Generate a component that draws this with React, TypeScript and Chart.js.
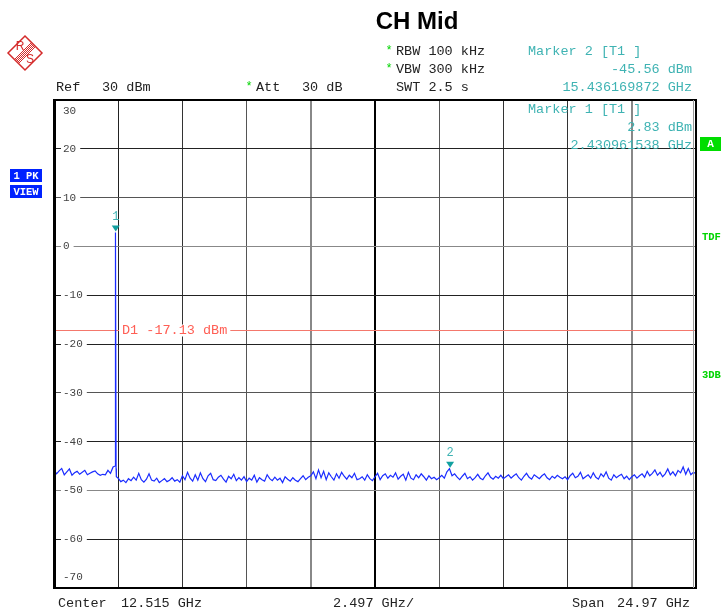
import React, { useEffect, useRef } from "react";
import { Chart, registerables } from "chart.js";

Chart.register(...registerables);

// ---- data ----
const START_GHZ = 0.03;
const STOP_GHZ = 25.0;
const DIV_GHZ = 2.497;
const Y_MIN = -70;
const Y_MAX = 30;
const yTickValues = [30, 20, 10, 0, -10, -20, -30, -40, -50, -60, -70];
const yTickLabels = ["30", "20", "10", "0", "-10", "-20", "-30", "-40", "-50", "-60", "-70"];

// trace levels (dBm), evenly spaced sweep points from START to STOP
const traceLevels: number[] = [
  // 0.03 .. 2.33 GHz
  -45.8, -46.6, -46.0, -45.5, -46.8, -46.2, -45.6, -46.9, -46.4, -46.1, -46.7, -46.3, -45.9, -46.8, -46.5, -46.2,
  -46.0, -46.6, -46.9, -46.7, -46.8, -45.9, -46.5, -45.2,
  // carrier
  2.83,
  // 2.5 .. 5 GHz
  -47.5, -48.2, -47.9, -48.4, -47.6, -48.0, -47.3, -47.9, -46.5, -47.8, -48.3, -47.7, -46.6, -47.9, -48.1, -47.5,
  -48.4, -48.0, -47.6, -48.2, -47.9, -47.4, -48.1, -47.8, -48.3,
  // 5 .. 7.5
  -47.0, -47.8, -46.3, -47.5, -48.1, -46.8, -47.9, -46.4, -47.6, -48.2, -47.0, -46.5, -47.8, -48.0, -47.3, -46.9,
  -47.7, -48.3, -47.1, -47.6, -46.7, -48.0, -47.4, -47.9, -47.2,
  // 7.5 .. 10
  -48.2, -47.5, -47.9, -46.9, -48.3, -47.4, -47.8, -48.1, -46.8, -47.6, -48.0, -47.3, -47.9, -47.5, -48.4, -47.2,
  -47.7, -48.1, -47.4, -47.9, -48.2, -47.6, -47.0, -47.8, -47.3,
  // 10 .. 12.5
  -47.0, -46.2, -47.6, -45.8, -47.4, -46.1, -47.8, -46.4, -47.2, -47.9, -46.6, -47.5, -46.3, -47.1, -47.7, -46.9,
  -47.4, -46.5, -47.8, -47.6, -47.2, -47.9, -46.8, -47.6, -48.0,
  // 12.5 .. 15
  -47.2, -46.5, -47.8, -47.0, -46.6, -47.5, -46.9, -47.3, -46.4, -47.7, -47.1, -46.7, -47.9, -46.3, -47.5, -47.8,
  -46.8, -47.4, -46.6, -47.2, -47.9, -47.0, -47.6, -47.3, -47.8,
  // 15 .. 17.5
  -47.4, -46.9, -47.5, -46.2, -45.56, -47.0, -46.6, -47.3, -47.8, -47.1, -46.5, -47.6, -47.2, -47.9, -47.4, -46.7,
  -47.5, -47.8, -47.0, -46.4, -47.3, -47.7, -47.1, -47.5, -46.9,
  // 17.5 .. 20
  -47.6, -47.2, -46.8, -47.5, -47.0, -46.6, -47.4, -47.9, -47.1, -46.5, -47.3, -47.7, -46.8, -47.2, -47.6, -47.0,
  -46.6, -47.4, -47.8, -47.1, -47.5, -46.9, -47.3, -47.6, -47.2,
  // 20 .. 22.5
  -47.8, -47.0, -46.5, -47.4, -47.1, -46.3, -47.6, -47.2, -46.8, -47.5, -46.4, -47.3, -47.7, -46.6, -47.2, -46.2,
  -47.5, -47.9, -46.8, -47.4, -47.0, -46.7, -47.6, -47.1, -47.8,
  // 22.5 .. 25
  -47.2, -46.8, -47.5, -47.0, -46.6, -47.3, -46.1, -47.0, -46.5, -45.8, -46.9, -46.3, -47.2, -46.6, -45.6, -46.8,
  -46.2, -47.0, -45.9, -46.4, -45.2, -46.7, -45.5, -46.8, -46.3, -46.6,
];

// extra sweep points on the carrier's skirts (GHz, dBm)
const carrierSkirtFreqs = [2.405, 2.415, 2.445, 2.455];
const carrierSkirtLevels = [-45.0, -44.0, -45.5, -47.2];

const markers = [
  { label: "1", freq: 2.430961538, level: 2.83 },
  { label: "2", freq: 15.436169872, level: -45.56 },
];
const displayLine = { label: "D1 -17.13 dBm", level: -17.13 };

const titleText = "CH Mid";
const headerLeft = { ref: "Ref", refVal: "30 dBm", att: "Att", attVal: "30 dB" };
const settingLines = ["RBW 100 kHz", "VBW 300 kHz", "SWT 2.5 s"];
const marker2Lines = ["Marker 2 [T1 ]", "-45.56 dBm", "15.436169872 GHz"];
const marker1Lines = ["Marker 1 [T1 ]", "2.83 dBm", "2.430961538 GHz"];
const footer = { center: "Center", centerVal: "12.515 GHz", div: "2.497 GHz/", span: "Span", spanVal: "24.97 GHz" };

const MONO = '"Liberation Mono", "DejaVu Sans Mono", monospace';
const SANS = '"Liberation Sans", Arial, sans-serif';
const TEAL = "#3fb3b3";
const GREEN = "#00d400";
const RED = "#ff5f55";
const BLUE = "#1a2cff";

function txt(ctx: CanvasRenderingContext2D, s: string, x: number, y: number, color: string, font: string, align: CanvasTextAlign = "left") {
  ctx.fillStyle = color;
  ctx.font = font;
  ctx.textAlign = align;
  ctx.textBaseline = "middle";
  ctx.fillText(s, x, y);
}

const decor = {
  id: "rsDecor",
  beforeDatasetsDraw(chart: any) {
    const ctx: CanvasRenderingContext2D = chart.ctx;
    const { left, right } = chart.chartArea;
    const ys = chart.scales.y;
    ctx.save();
    // y tick labels inside the grid
    ctx.font = `11px ${MONO}`;
    yTickValues.forEach((v, i) => {
      let py = ys.getPixelForValue(v);
      if (i === 0) py += 11;
      if (i === yTickValues.length - 1) py -= 11;
      const w = ctx.measureText(yTickLabels[i]).width;
      ctx.fillStyle = "#fff";
      ctx.fillRect(left + 7, py - 5, w + 6, 10);
      txt(ctx, yTickLabels[i], left + 9, py, "#444", `11px ${MONO}`);
    });
    // display line D1
    const dy = Math.round(ys.getPixelForValue(displayLine.level)) + 0.5;
    ctx.strokeStyle = "#f4786c";
    ctx.lineWidth = 1;
    ctx.beginPath();
    ctx.moveTo(left, dy);
    ctx.lineTo(right, dy);
    ctx.stroke();
    ctx.font = `13.5px ${MONO}`;
    const lw = ctx.measureText(displayLine.label).width;
    ctx.fillStyle = "#fff";
    ctx.fillRect(left + 65, dy - 6, lw + 6, 12);
    txt(ctx, displayLine.label, left + 68, dy, RED, `13.5px ${MONO}`);
    ctx.restore();
  },
  afterDatasetsDraw(chart: any) {
    const ctx: CanvasRenderingContext2D = chart.ctx;
    const { left, right, top, bottom } = chart.chartArea;
    const xs = chart.scales.x;
    const ys = chart.scales.y;
    ctx.save();
    // markers
    markers.forEach((m) => {
      const px = xs.getPixelForValue(m.freq);
      const py = ys.getPixelForValue(m.level);
      ctx.fillStyle = "#12a0a0";
      ctx.beginPath();
      ctx.moveTo(px - 4, py - 7);
      ctx.lineTo(px + 4, py - 7);
      ctx.lineTo(px, py - 1);
      ctx.closePath();
      ctx.fill();
      txt(ctx, m.label, px, py - 16, TEAL, `12px ${MONO}`, "center");
    });
    // frame
    ctx.strokeStyle = "#000";
    ctx.lineWidth = 2;
    ctx.strokeRect(left, top, right - left, bottom - top);
    ctx.fillStyle = "#000";
    ctx.fillRect(left - 1, top - 1, 3, bottom - top + 2);
    ctx.strokeStyle = "#999";
    ctx.lineWidth = 1;
    ctx.beginPath();
    ctx.moveTo(right - 2.5, top);
    ctx.lineTo(right - 2.5, bottom);
    ctx.stroke();
    // marker 1 info inside plot
    const f = `13.5px ${MONO}`;
    txt(ctx, marker1Lines[0], 528, 109, TEAL, f);
    txt(ctx, marker1Lines[1], 692, 127, TEAL, f, "right");
    txt(ctx, marker1Lines[2], 692, 145, TEAL, f, "right");
    ctx.restore();
  },
  afterDraw(chart: any) {
    const ctx: CanvasRenderingContext2D = chart.ctx;
    ctx.save();
    const f = `13.5px ${MONO}`;
    // title
    txt(ctx, titleText, 417, 22, "#000", `bold 24px ${SANS}`, "center");
    // logo
    ctx.save();
    ctx.translate(25, 53);
    ctx.strokeStyle = "#d42a2a";
    ctx.lineWidth = 1.5;
    ctx.beginPath();
    ctx.moveTo(0, -17);
    ctx.lineTo(17, 0);
    ctx.lineTo(0, 17);
    ctx.lineTo(-17, 0);
    ctx.closePath();
    ctx.stroke();
    ctx.lineWidth = 1;
    for (let k = -2; k <= 2; k++) {
      ctx.beginPath();
      ctx.moveTo(9 + k, -9 + k);
      ctx.lineTo(-9 + k, 9 + k);
      ctx.stroke();
    }
    txt(ctx, "R", -5, -6, "#d42a2a", `12px ${SANS}`, "center");
    txt(ctx, "S", 5, 7, "#d42a2a", `12px ${SANS}`, "center");
    ctx.restore();
    // settings
    txt(ctx, "*", 389, 51, GREEN, `12px ${MONO}`, "center");
    txt(ctx, "*", 389, 69, GREEN, `12px ${MONO}`, "center");
    txt(ctx, "*", 249, 87, GREEN, `12px ${MONO}`, "center");
    txt(ctx, settingLines[0], 396, 51, "#222", f);
    txt(ctx, settingLines[1], 396, 69, "#222", f);
    txt(ctx, settingLines[2], 396, 87, "#222", f);
    txt(ctx, headerLeft.ref, 56, 87, "#222", f);
    txt(ctx, headerLeft.refVal, 102, 87, "#222", f);
    txt(ctx, headerLeft.att, 256, 87, "#222", f);
    txt(ctx, headerLeft.attVal, 302, 87, "#222", f);
    // marker 2 block
    txt(ctx, marker2Lines[0], 528, 51, TEAL, f);
    txt(ctx, marker2Lines[1], 692, 69, TEAL, f, "right");
    txt(ctx, marker2Lines[2], 692, 87, TEAL, f, "right");
    // side labels
    ctx.fillStyle = "#0022ff";
    ctx.fillRect(10, 169, 32, 13);
    ctx.fillRect(10, 185, 32, 13);
    txt(ctx, "1 PK", 26, 176, "#fff", `bold 10.5px ${MONO}`, "center");
    txt(ctx, "VIEW", 26, 192, "#fff", `bold 10.5px ${MONO}`, "center");
    ctx.fillStyle = "#00dd00";
    ctx.fillRect(700, 137, 21, 14);
    txt(ctx, "A", 710.5, 144, "#fff", `bold 11px ${MONO}`, "center");
    txt(ctx, "TDF", 702, 237, GREEN, `bold 10.5px ${MONO}`);
    txt(ctx, "3DB", 702, 375, GREEN, `bold 10.5px ${MONO}`);
    // footer
    txt(ctx, footer.center, 58, 603, "#222", f);
    txt(ctx, footer.centerVal, 121, 603, "#222", f);
    txt(ctx, footer.div, 333, 603, "#222", f);
    txt(ctx, footer.span, 572, 603, "#222", f);
    txt(ctx, footer.spanVal, 690, 603, "#222", f, "right");
    ctx.restore();
  },
};

const xGridColors = ["rgba(0,0,0,0)", "#222", "#333", "#555", "#888", "#000", "#555", "#333", "#333", "#888", "rgba(0,0,0,0)"];
const xGridWidths = [1, 1, 1, 1, 2, 2, 1, 1, 1, 2, 1];

export default function App() {
  const ref = useRef<HTMLCanvasElement>(null);
  useEffect(() => {
    const canvas = ref.current!;
    const n = traceLevels.length;
    const step = (STOP_GHZ - START_GHZ) / (n - 1);
    const points = traceLevels.map((v, i) => ({ x: START_GHZ + i * step, y: v }));
    carrierSkirtFreqs.forEach((fq, i) => points.push({ x: fq, y: carrierSkirtLevels[i] }));
    points.sort((a, b) => a.x - b.x);
    const chart = new Chart(canvas, {
      type: "line",
      data: {
        datasets: [
          {
            data: points,
            borderColor: BLUE,
            borderWidth: 1.2,
            pointRadius: 0,
            tension: 0,
            fill: false,
          },
        ],
      },
      options: {
        animation: false,
        responsive: false,
        devicePixelRatio: 1,
        events: [],
        layout: { padding: { left: 54, right: 28, top: 100, bottom: 20 } },
        plugins: { legend: { display: false }, tooltip: { enabled: false }, title: { display: false } },
        scales: {
          x: {
            type: "linear",
            min: START_GHZ,
            max: STOP_GHZ,
            afterBuildTicks: (scale: any) => {
              scale.ticks = Array.from({ length: 11 }, (_, i) => ({ value: START_GHZ + i * DIV_GHZ }));
            },
            ticks: { display: false },
            border: { display: false },
            grid: {
              drawTicks: false,
              color: (c: any) => xGridColors[c.index] || "#333",
              lineWidth: (c: any) => xGridWidths[c.index] || 1,
            },
          },
          y: {
            type: "linear",
            min: Y_MIN,
            max: Y_MAX,
            ticks: { display: false, stepSize: 10 },
            border: { display: false },
            grid: {
              drawTicks: false,
              color: (c: any) => {
                const v = c.tick ? c.tick.value : 0;
                if (v === 30 || v === -70) return "rgba(0,0,0,0)";
                if (v === 0 || v === -50) return "#888";
                if (v === 10 || v === -30) return "#555";
                return "#222";
              },
            },
          },
        },
      },
      plugins: [decor],
    } as any);
    return () => chart.destroy();
  }, []);
  return (
    <div style={{ position: "fixed", left: 0, top: 0, width: 724, height: 608, background: "#fff" }}>
      <canvas ref={ref} width={724} height={608} style={{ width: 724, height: 608, display: "block" }} />
    </div>
  );
}
